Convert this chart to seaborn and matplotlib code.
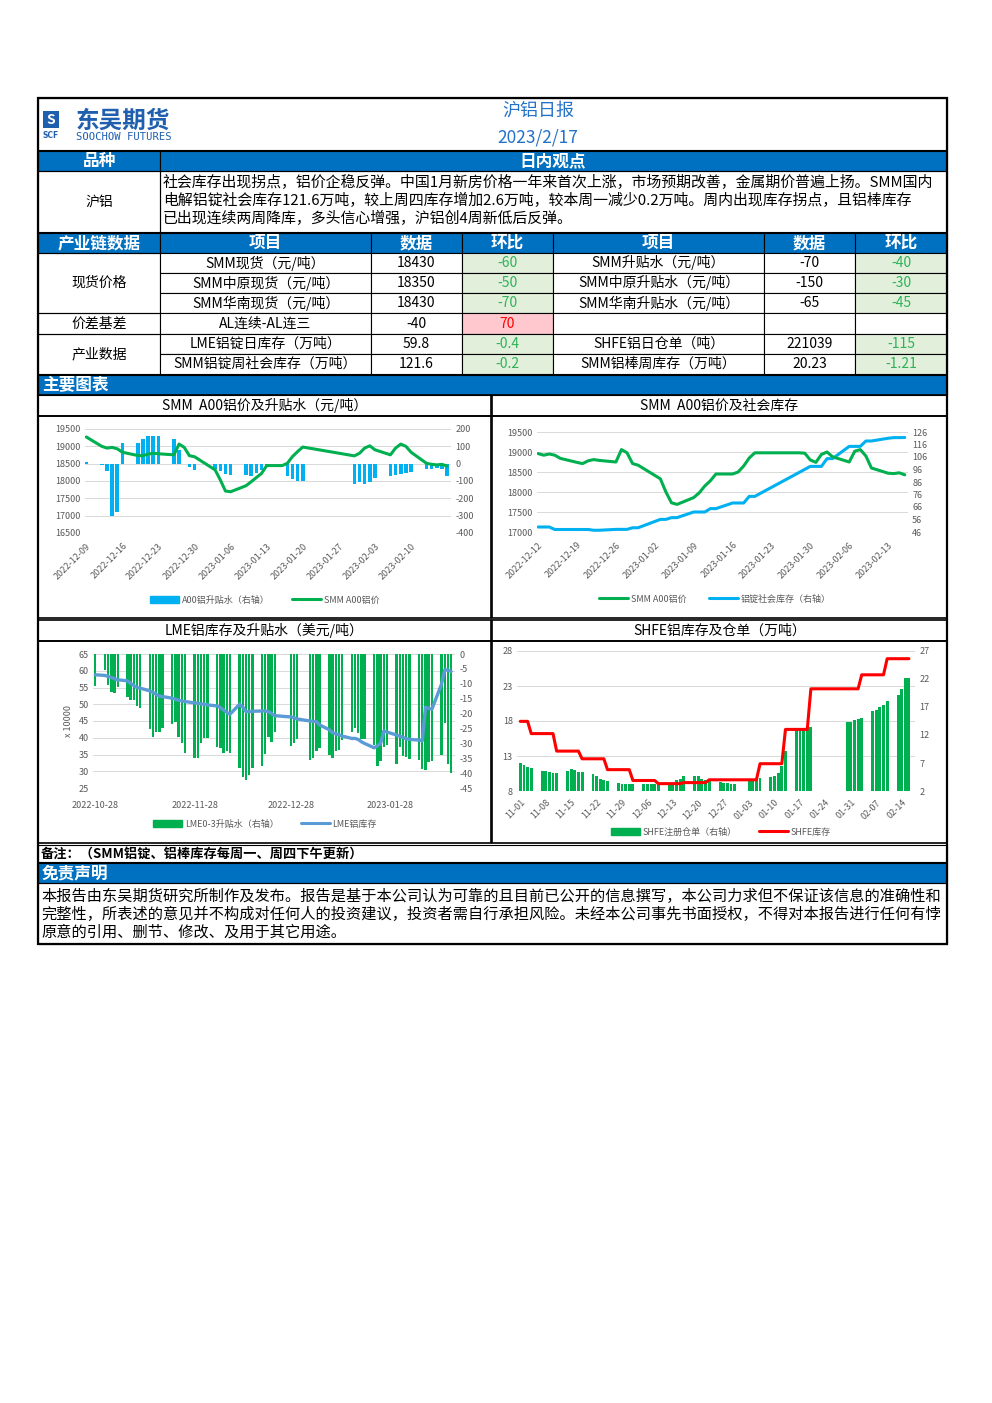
import numpy as np
import pandas as pd
import matplotlib
matplotlib.use('Agg')
import matplotlib.pyplot as plt
from matplotlib.patches import Rectangle, Patch
from matplotlib.lines import Line2D
import seaborn as sns

sns.set_style('white')
plt.rcParams['font.family'] = ['Noto Sans CJK SC', 'DejaVu Sans']
plt.rcParams['axes.unicode_minus'] = False

# =============================================================================
# 数据
# =============================================================================
cn_holidays = ['2023-01-02', '2023-01-23', '2023-01-24', '2023-01-25', '2023-01-26', '2023-01-27']
uk_holidays = ['2022-12-26', '2022-12-27', '2023-01-02']

# 图1 SMM A00铝价及升贴水
c1_dates = pd.bdate_range('2022-12-09', '2023-02-17').drop(pd.to_datetime(cn_holidays))
c1_price = [19270, 19000, 18950, 18970, 18930, 18830, 18735, 18730, 18775, 18800,
            18785, 18755, 19065, 18970, 18730, 18700, 18320, 18030, 17710, 17690,
            17865, 17980, 18100, 18220, 18445, 18445, 18510, 18705, 18850, 18980,
            18725, 18800, 18950, 19015, 18900, 18755, 18950, 19065, 19000, 18830,
            18510, 18480, 18465, 18480, 18430]
c1_spread = [10, -10, -40, -300, -280, 120, 120, 140, 160, 160,
             160, 140, 80, 0, -20, -35, -30, -40, -60, -65,
             -65, -70, -55, -35, -15, 0, -70, -90, -100, -100,
             -115, -108, -115, -105, -80, -70, -65, -60, -55, -50,
             -30, -30, -25, -30, -70]

# 图2 SMM A00铝价及社会库存
c2_inv_dates = pd.bdate_range('2022-12-12', '2023-02-16').drop(pd.to_datetime(cn_holidays))
c2_price_dates = c2_inv_dates.union(pd.to_datetime(['2023-01-28', '2023-01-29']))
c2_price = [18960, 18920, 18950, 18920, 18840, 18740, 18710, 18780, 18810, 18790,
            18750, 19060, 18980, 18710, 18670, 18330, 18000, 17730, 17690,
            17860, 17980, 18150, 18280, 18450, 18450, 18500, 18650, 18850, 18980,
            18980, 18970, 18800, 18740, 18940, 19000, 18880,
            18750, 19020, 19060, 18900, 18600, 18470, 18460, 18480, 18430]
c2_inv = [50.0, 50.0, 50.0, 48.0, 48.0, 48.0, 48.0, 48.0, 47.4, 47.4,
          48.1, 48.1, 48.1, 49.4, 49.4, 56.1, 56.1, 57.5, 57.5,
          62.0, 62.0, 62.0, 64.7, 64.7, 69.2, 69.2, 69.2, 74.5, 74.5,
          98.5, 98.5, 98.5, 104.7, 104.7, 114.5, 114.5, 114.5, 118.8, 118.8,
          121.0, 121.5, 121.5, 121.6]

# 图3 LME铝库存及升贴水
c3_dates = pd.bdate_range('2022-10-28', '2023-02-16').drop(pd.to_datetime(uk_holidays))
c3_spread = [-10.9,
             -5.5, -10.3, -12.6, -13.2, -11.2,
             -14.5, -15.6, -15.4, -17.4, -18.0,
             -25.2, -28.0, -26.1, -26.1, -24.7,
             -23.6, -23.0, -27.8, -30.0, -33.2,
             -34.9, -34.8, -30.0, -28.3, -28.3,
             -31.2, -31.5, -33.2, -32.5, -33.4,
             -38.2, -41.3, -42.2, -40.7, -38.2,
             -37.6, -33.6, -28.0, -29.5, -26.3,
             -30.8, -30.0, -28.7,
             -35.7, -34.8, -32.6, -31.5,
             -34.0, -34.8, -32.5, -32.3, -28.9,
             -26.1, -25.0, -26.4, -28.6, -28.6,
             -30.6, -37.6, -35.9, -31.2, -30.6,
             -36.8, -31.2, -34.3, -34.5, -35.1,
             -35.7, -38.5, -39.0, -36.2, -36.0,
             -34.0, -23.3, -36.8, -39.8]
c3_inv = [58.8,
          58.6, 58.3, 58.0, 57.6, 57.3,
          57.0, 56.3, 55.6, 55.0, 54.8,
          54.0, 53.5, 53.0, 52.4, 52.3,
          51.8, 51.5, 51.2, 51.0, 50.8,
          50.4, 50.3, 50.1, 50.0, 49.8,
          49.5, 49.0, 48.3, 47.6, 47.0,
          50.0, 49.2, 47.8, 47.8, 47.9,
          48.0, 48.0, 47.8, 47.2, 46.6,
          46.2, 46.0, 45.6,
          45.0, 44.9, 44.8, 43.8,
          42.4, 41.5, 41.2, 40.9, 40.5,
          39.8, 39.8, 39.5, 38.8, 38.3,
          37.0, 37.6, 38.3, 42.0, 41.7,
          40.8, 40.5, 40.1, 39.7, 39.5,
          39.3, 39.1, 49.1, 48.8, 48.5,
          56.0, 60.3, 60.2, 59.8]

# 图4 SHFE铝库存及仓单
c4_dates = pd.bdate_range('2022-11-01', '2023-02-16').drop(pd.to_datetime(cn_holidays))
c4_warrant = [7.06, 6.6, 6.3, 6.1,
              5.6, 5.5, 5.4, 5.3, 5.2,
              5.5, 6.0, 5.7, 5.4, 5.4,
              5.0, 4.6, 4.2, 3.9, 3.7,
              3.4, 3.3, 3.2, 3.2, 3.2,
              3.2, 3.2, 3.2, 3.3, 3.4,
              3.3, 3.4, 3.9, 4.2, 4.6,
              4.6, 4.6, 4.2, 4.0, 3.9,
              3.6, 3.4, 3.4, 3.3, 3.3,
              3.8, 3.9, 4.0, 4.3,
              4.5, 4.7, 5.2, 6.4, 9.1,
              13.1, 13.1, 13.1, 13.3, 13.5,
              14.3, 14.4, 14.6, 14.9, 15.1,
              16.3, 16.4, 17.0, 17.3, 18.0,
              19.1, 20.3, 22.2, 22.1]
c4_inv_dates = pd.to_datetime(['2022-11-01', '2022-11-03', '2022-11-04', '2022-11-10', '2022-11-11',
                               '2022-11-17', '2022-11-18', '2022-11-24', '2022-11-25', '2022-12-01',
                               '2022-12-02', '2022-12-08', '2022-12-09', '2022-12-15', '2022-12-16',
                               '2022-12-22', '2022-12-23', '2023-01-05', '2023-01-06', '2023-01-12',
                               '2023-01-13', '2023-01-19', '2023-01-20', '2023-02-02', '2023-02-03',
                               '2023-02-09', '2023-02-10', '2023-02-16'])
c4_inv = [17.95, 17.95, 16.2, 16.2, 13.7, 13.7, 12.6, 12.6, 11.05, 11.05,
          9.5, 9.5, 9.05, 9.05, 9.2, 9.2, 9.6, 9.6, 11.9, 11.9,
          16.8, 16.8, 22.6, 22.6, 24.6, 24.6, 26.9, 26.9]

# 表格
view_text = ['社会库存出现拐点，铝价企稳反弹。中国1月新房价格一年来首次上涨，市场预期改善，金属期价普遍上扬。SMM国内',
             '电解铝锭社会库存121.6万吨，较上周四库存增加2.6万吨，较本周一减少0.2万吨。周内出现库存拐点，且铝棒库存',
             '已出现连续两周降库，多头信心增强，沪铝创4周新低后反弹。']
left_items = ['SMM现货（元/吨）', 'SMM中原现货（元/吨）', 'SMM华南现货（元/吨）', 'AL连续-AL连三',
              'LME铝锭日库存（万吨）', 'SMM铝锭周社会库存（万吨）']
left_values = ['18430', '18350', '18430', '-40', '59.8', '121.6']
left_chg = ['-60', '-50', '-70', '70', '-0.4', '-0.2']
right_items = ['SMM升贴水（元/吨）', 'SMM中原升贴水（元/吨）', 'SMM华南升贴水（元/吨）', '',
               'SHFE铝日仓单（吨）', 'SMM铝棒周库存（万吨）']
right_values = ['-70', '-150', '-65', '', '221039', '20.23']
right_chg = ['-40', '-30', '-45', '', '-115', '-1.21']
disclaimer = ['本报告由东吴期货研究所制作及发布。报告是基于本公司认为可靠的且目前已公开的信息撰写，本公司力求但不保证该信息的准确性和',
              '完整性，所表述的意见并不构成对任何人的投资建议，投资者需自行承担风险。未经本公司事先书面授权，不得对本报告进行任何有悖',
              '原意的引用、删节、修改、及用于其它用途。']

# =============================================================================
# 画布 (像素坐标)
# =============================================================================
W, H = 992, 1403
BLUE = '#0070C0'
GRAY = '#595959'
fig = plt.figure(figsize=(W / 100, H / 100), dpi=100)
bg = fig.add_axes([0, 0, 1, 1])
bg.set_xlim(0, W)
bg.set_ylim(H, 0)
bg.axis('off')


def rect(x0, y0, x1, y1, fc='none', ec='black', lw=0.8):
    bg.add_patch(Rectangle((x0, y0), x1 - x0, y1 - y0, facecolor=fc, edgecolor=ec, lw=lw))


def txt(x, y, s, size=10, color='black', ha='center', weight='normal', **kw):
    bg.text(x, y, s, fontsize=size, color=color, ha=ha, va='center', fontweight=weight, **kw)


# 表头
rect(38, 98, 947, 150)
rect(43, 111, 59, 128, fc='#1F5FAD', ec='none')
txt(51, 119.5, 'S', size=10, color='white', weight='bold', style='italic')
txt(51, 136, 'SCF', size=5.5, color='#1F5FAD', weight='bold', family='DejaVu Sans')
txt(76, 121, '东吴期货', size=17, color='#1F5FAD', ha='left', weight='bold')
txt(76, 137, 'SOOCHOW FUTURES', size=7.6, color='#1F5FAD', ha='left', family='DejaVu Sans Mono')
txt(538, 111, '沪铝日报', size=13, color='#2472C8')
txt(538, 137, '2023/2/17', size=12.5, color='#2472C8')

# 日内观点
rect(38, 151, 160, 171, fc=BLUE)
rect(160, 151, 947, 171, fc=BLUE)
txt(99, 161, '品种', size=12, color='white', weight='bold')
txt(553, 161, '日内观点', size=12, color='white', weight='bold')
rect(38, 171, 160, 232)
rect(160, 171, 947, 232)
txt(99, 202, '沪铝', size=10)
for i, line in enumerate(view_text):
    txt(163, 182 + 18 * i, line, size=10.75, ha='left')

# 产业链数据
cols = [38, 160, 371, 462, 553, 764, 855, 947]
head = ['产业链数据', '项目', '数据', '环比', '项目', '数据', '环比']
for i, h in enumerate(head):
    rect(cols[i], 233, cols[i + 1], 253, fc=BLUE)
    txt((cols[i] + cols[i + 1]) / 2, 243, h, size=12, color='white', weight='bold')

rows = [253, 273, 293, 313, 334, 354, 374]
rect(38, 253, 160, 313)
rect(38, 313, 160, 334)
rect(38, 334, 160, 374)
txt(99, 283, '现货价格', size=10)
txt(99, 324, '价差基差', size=10)
txt(99, 354, '产业数据', size=10)


def chg_style(s):
    if s == '':
        return 'white', 'black'
    if s.startswith('-'):
        return '#E2EFDA', '#2DB35A'
    return '#FFC7CE', '#FF0000'


for r in range(6):
    y0, y1 = rows[r], rows[r + 1]
    yc = (y0 + y1) / 2
    cells = [left_items[r], left_values[r], left_chg[r], right_items[r], right_values[r], right_chg[r]]
    for c, s in enumerate(cells):
        x0, x1 = cols[c + 1], cols[c + 2]
        if c in (2, 5):
            fc, tc = chg_style(s)
        else:
            fc, tc = 'white', 'black'
        rect(x0, y0, x1, y1, fc=fc)
        txt((x0 + x1) / 2, yc, s, size=10, color=tc)

# 主要图表
rect(38, 375, 947, 395, fc=BLUE)
txt(42, 385, '主要图表', size=12, color='white', ha='left', weight='bold')
chart_titles = ['SMM  A00铝价及升贴水（元/吨）', 'SMM  A00铝价及社会库存',
                'LME铝库存及升贴水（美元/吨）', 'SHFE铝库存及仓单（万吨）']
for k, (x0, x1) in enumerate([(38, 491), (492, 947)]):
    for j, (ty0, ty1, cy1) in enumerate([(395, 416, 618), (620, 641, 843)]):
        rect(x0, ty0, x1, ty1, lw=1.2)
        rect(x0, ty1, x1, cy1, lw=1.2)
        txt((x0 + x1) / 2, (ty0 + ty1) / 2, chart_titles[j * 2 + k], size=10)

rect(38, 845, 947, 862)
txt(41, 853.5, '备注：（SMM铝锭、铝棒库存每周一、周四下午更新）', size=9.5, ha='left', weight='bold')
rect(38, 863, 947, 883, fc=BLUE)
txt(42, 873, '免责声明', size=12, color='white', ha='left', weight='bold')
rect(38, 883, 947, 944)
for i, line in enumerate(disclaimer):
    txt(41, 896 + 18 * i, line, size=10.95, ha='left')
rect(38, 98, 947, 944, lw=1.6)


# =============================================================================
# 图表
# =============================================================================
def px_axes(x0, y0, x1, y1):
    return fig.add_axes([x0 / W, 1 - y1 / H, (x1 - x0) / W, (y1 - y0) / H])


def style(ax, axr):
    for a in (ax, axr):
        for s in a.spines.values():
            s.set_visible(False)
        a.tick_params(length=0, labelsize=6.5, labelcolor=GRAY, pad=3)
        a.set_xlabel('')
        a.set_ylabel('')
    ax.set_zorder(axr.get_zorder() + 1)
    ax.patch.set_visible(False)


def grid_under(ax_low, lo, hi, ticks):
    for t in ticks:
        f = (t - lo) / (hi - lo)
        ax_low.plot([0, 1], [f, f], transform=ax_low.transAxes, color='#D9D9D9', lw=0.7, zorder=0)


def legend(handles, labels, cx, cy):
    fig.legend(handles, labels, loc='center', bbox_to_anchor=(cx / W, 1 - cy / H), ncol=2,
               frameon=False, fontsize=6.5, labelcolor=GRAY, handlelength=3.2,
               columnspacing=2.5, handletextpad=0.3)


# --- 图1
ax1 = px_axes(85, 429, 451, 533)
ax1r = ax1.twinx()
ax1r.bar(c1_dates, c1_spread, width=0.7, color='#00B0F0', lw=0, zorder=2)
sns.lineplot(x=c1_dates, y=c1_price, ax=ax1, color='#00B050', lw=2.2, estimator=None)
style(ax1, ax1r)
ax1.set_ylim(16500, 19500)
ax1.set_yticks(range(16500, 19501, 500))
ax1r.set_ylim(-400, 200)
ax1r.set_yticks(range(-400, 201, 100))
grid_under(ax1r, 16500, 19500, range(16500, 19501, 500))
ax1.set_xlim(pd.Timestamp('2022-12-08 18:00'), pd.Timestamp('2023-02-17 18:00'))
t1 = pd.date_range('2022-12-09', periods=10, freq='7D')
ax1.set_xticks(t1)
ax1.set_xticklabels([d.strftime('%Y-%m-%d') for d in t1], rotation=45, ha='right', rotation_mode='anchor')
ax1.tick_params(axis='x', pad=6)
legend([Patch(color='#00B0F0'), Line2D([], [], color='#00B050', lw=2.2)],
       ['A00铝升贴水（右轴）', 'SMM A00铝价'], 265, 600)

# --- 图2
ax2 = px_axes(537, 432, 908, 532)
ax2r = ax2.twinx()
sns.lineplot(x=c2_inv_dates, y=c2_inv, ax=ax2r, color='#00B0F0', lw=2.2, estimator=None)
sns.lineplot(x=c2_price_dates, y=c2_price, ax=ax2, color='#00B050', lw=2.2, estimator=None)
style(ax2, ax2r)
ax2.set_ylim(17000, 19500)
ax2.set_yticks(range(17000, 19501, 500))
ax2r.set_ylim(46, 126)
ax2r.set_yticks(range(46, 127, 10))
grid_under(ax2r, 17000, 19500, range(17000, 19501, 500))
ax2.set_xlim(pd.Timestamp('2022-12-11 19:00'), pd.Timestamp('2023-02-16 14:00'))
t2 = pd.date_range('2022-12-12', periods=10, freq='7D')
ax2.set_xticks(t2)
ax2.set_xticklabels([d.strftime('%Y-%m-%d') for d in t2], rotation=45, ha='right', rotation_mode='anchor')
ax2.tick_params(axis='x', pad=6)
legend([Line2D([], [], color='#00B050', lw=2.2), Line2D([], [], color='#00B0F0', lw=2.2)],
       ['SMM A00铝价', '铝锭社会库存（右轴）'], 715, 599)

# --- 图3
ax3 = px_axes(93, 654, 455, 788)
ax3r = ax3.twinx()
ax3r.bar(c3_dates, c3_spread, width=0.75, color='#00B050', lw=0, zorder=2)
sns.lineplot(x=c3_dates, y=c3_inv, ax=ax3, color='#5B9BD5', lw=2.4, estimator=None)
style(ax3, ax3r)
ax3.set_ylim(25, 65)
ax3.set_yticks(range(25, 66, 5))
ax3r.set_ylim(-45, 0)
ax3r.set_yticks(range(-45, 1, 5))
grid_under(ax3r, 25, 65, range(25, 66, 5))
ax3.set_ylabel('x 10000', fontsize=6.5, color=GRAY, labelpad=4)
ax3.set_xlim(pd.Timestamp('2022-10-27 07:00'), pd.Timestamp('2023-02-17 05:00'))
t3 = pd.to_datetime(['2022-10-28', '2022-11-28', '2022-12-28', '2023-01-28'])
ax3.set_xticks(t3)
ax3.set_xticklabels([d.strftime('%Y-%m-%d') for d in t3])
ax3.tick_params(axis='x', pad=9)
legend([Patch(color='#00B050'), Line2D([], [], color='#5B9BD5', lw=2.2)],
       ['LME0-3升贴水（右轴）', 'LME铝库存'], 265, 824)

# --- 图4
ax4 = px_axes(517, 651, 915, 791)
ax4r = ax4.twinx()
ax4r.bar(c4_dates, c4_warrant, width=0.8, color='#00B050', lw=0, zorder=2)
sns.lineplot(x=c4_inv_dates, y=c4_inv, ax=ax4, color='#FF0000', lw=2.2, estimator=None)
style(ax4, ax4r)
ax4.set_ylim(8, 28)
ax4.set_yticks(range(8, 29, 5))
ax4r.set_ylim(2, 27)
ax4r.set_yticks(range(2, 28, 5))
grid_under(ax4r, 8, 28, range(8, 29, 5))
ax4.set_xlim(pd.Timestamp('2022-10-31 02:00'), pd.Timestamp('2023-02-17 16:00'))
t4 = pd.date_range('2022-11-01', periods=16, freq='7D')
ax4.set_xticks(t4)
ax4.set_xticklabels([d.strftime('%m-%d') for d in t4], rotation=45, ha='right', rotation_mode='anchor')
ax4.tick_params(axis='x', pad=5)
legend([Patch(color='#00B050'), Line2D([], [], color='#FF0000', lw=2.2)],
       ['SHFE注册仓单（右轴）', 'SHFE库存'], 721, 832)

fig.savefig('out.png', dpi=100)
